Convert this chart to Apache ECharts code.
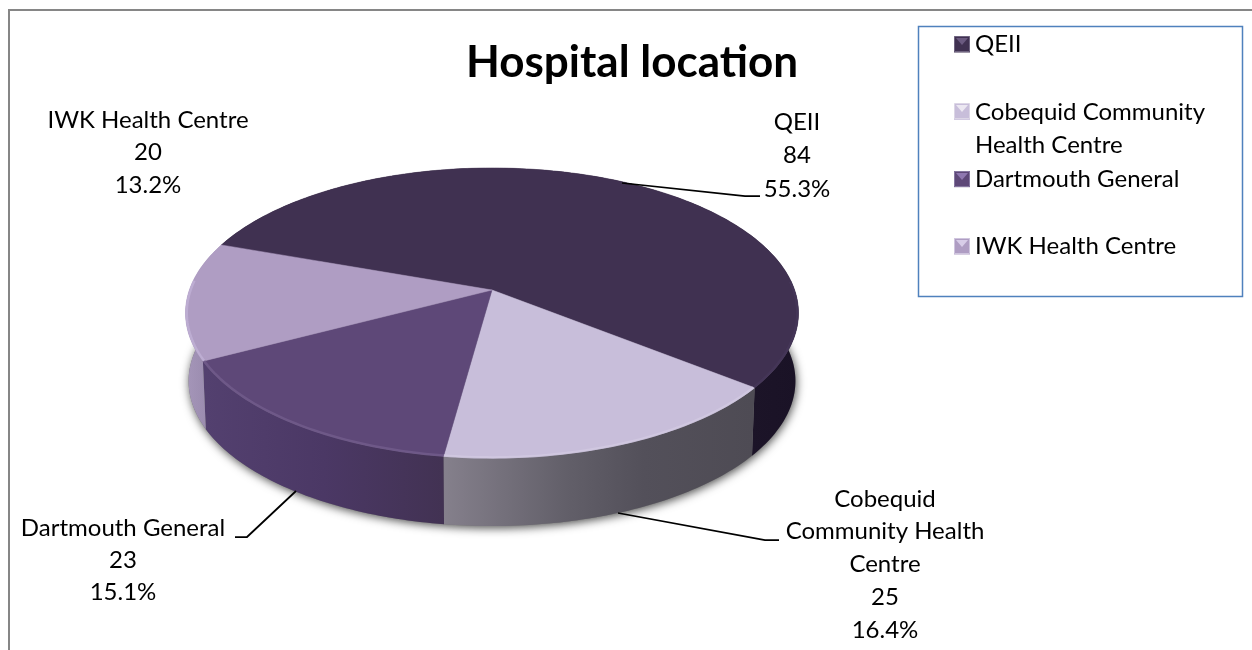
<!DOCTYPE html>
<html><head><meta charset="utf-8">
<style>html,body{margin:0;padding:0;background:#fff}#c{width:1252px;height:650px}</style>
<script src="https://cdn.jsdelivr.net/npm/echarts@6/dist/echarts.min.js"></script>
</head><body><div id="c"></div>
<script>
const categories = ['QEII','Cobequid Community Health Centre','Dartmouth General','IWK Health Centre'];
const values = [84,25,23,20];
const percentLabels = ['55.3%','16.4%','15.1%','13.2%'];
const titleText = 'Hospital location';
const legendLines = {'QEII':'QEII\n ','Cobequid Community Health Centre':'Cobequid Community\nHealth Centre','Dartmouth General':'Dartmouth General\n ','IWK Health Centre':'IWK Health Centre\n '};
const labelLines = [['QEII'],['Cobequid','Community Health','Centre'],['Dartmouth General'],['IWK Health Centre']];

// styling and layout (separate from the data)
const FONT='Lato';
const topColors=['#403151','#C8BEDA','#5E4878','#AF9DC3'];
const bevelColors=['#46375a','#d3cbe2','#75608f','#c3b4d8'];
const sideStops=[
  [[0,'#1c1428'],[1,'#1a1226']],
  [[0,'#85808c'],[0.4,'#625f69'],[0.65,'#53505a'],[1,'#4e4b54']],
  [[0,'#53406f'],[0.5,'#4b3865'],[1,'#423253']],
  [[0,'#a596b9'],[1,'#9a8bae']]
];
const sideRange=[[750,800],[443,752],[205,443],[186,208]];
const legendBody=['#403151','#C8BEDA','#5E4878','#AF9DC3'];
const legendEdge=['#6f6480','#dcd6e6','#8677a0','#cfc5de'];
const legendPeak=['#6b5a80','#ece8f2','#8f78b0','#d8cde8'];
const legendTops=[36,103,171,238];
const labelPos=[[797,122,33.5],[885,499,32.7],[123,528,32],[148,120,32.5]];
const leaders=[
  [[622,183],[745,196],[760,196]],
  [[618,513],[765,540],[779,540]],
  [[296,491],[247,537],[235,537]],
  null
];
const G={cx:492,cy:290,R:302.6,S:141.4,k:0.1586,depth:68,bottomScale:0.99};
const START=199.6;

const total=values.reduce((a,b)=>a+b,0);
function project(deg,bottom,inset){
  const t=deg*Math.PI/180,u=Math.cos(t),v=Math.sin(t),w=1-G.k*v;
  const f=inset||1;
  const x=G.R*u/w*f,y=G.S*v/w*f;
  return bottom?[G.cx+x*G.bottomScale,G.cy+y+G.depth]:[G.cx+x,G.cy+y];
}
function arc(a0,a1,bottom,inset){
  const n=Math.max(2,Math.ceil(Math.abs(a1-a0)));const p=[];
  for(let i=0;i<=n;i++)p.push(project(a0+(a1-a0)*i/n,bottom,inset));
  return p;
}
const chart=echarts.init(document.getElementById('c'),null,{renderer:'canvas'});

function sliceSeries(idx){
  const before=values.slice(0,idx).reduce((a,b)=>a+b,0);
  return {
    type:'custom',name:categories[idx],coordinateSystem:'none',silent:true,
    itemStyle:{color:topColors[idx]},
    data:[{name:categories[idx],value:values[idx]}],
    renderItem(params,api){
      const v=api.value(0);
      const a0=START+before/total*360,a1=a0+v/total*360;
      const top=arc(a0,a1,false),bot=arc(a0,a1,true);
      const rim=arc(a0,a1,false,0.996).filter(p=>p[1]>G.cy-10);
      const sr=sideRange[idx];
      const fill=new echarts.graphic.LinearGradient(sr[0],0,sr[1],0,sideStops[idx].map(s=>({offset:s[0],color:s[1]})),true);
      const kids=[
        {type:'polygon',z2:2,shape:{points:top.concat(bot.slice().reverse())},style:{fill,stroke:null}},
        {type:'polygon',z2:5,shape:{points:[[G.cx,G.cy]].concat(top)},style:{fill:topColors[idx],stroke:topColors[idx],lineWidth:0.5}},
        {type:'polyline',z2:6,shape:{points:rim},style:{fill:null,stroke:bevelColors[idx],lineWidth:2.5,opacity:0.7}}
      ];
      const lp=labelPos[idx];
      labelLines[idx].concat([String(v),percentLabels[idx]]).forEach((s,i)=>{
        kids.push({type:'text',z2:20,style:{text:s,x:lp[0],y:lp[1]+i*lp[2],align:'center',verticalAlign:'middle',fontFamily:FONT,fontSize:24,fill:'#000'}});
      });
      if(leaders[idx])kids.push({type:'polyline',z2:19,shape:{points:leaders[idx]},style:{fill:null,stroke:'#000',lineWidth:1.75}});
      return {type:'group',children:kids};
    }
  };
}
const shadowSeries={
  type:'custom',coordinateSystem:'none',silent:true,z:1,data:[total],
  renderItem(){
    return {type:'polygon',shape:{points:arc(0,360,true)},style:{fill:'#777',shadowBlur:10,shadowColor:'rgba(0,0,0,0.7)',shadowOffsetY:2,shadowOffsetX:1}};
  }
};
const option={
  animation:false,backgroundColor:'#fff',
  title:{text:titleText,left:466,top:41,padding:0,textStyle:{fontFamily:FONT,fontSize:44,fontWeight:'bold',color:'#000'}},
  legend:{
    orient:'vertical',left:954,top:28,padding:0,itemGap:1.33,itemWidth:16,itemHeight:49,selectedMode:false,
    formatter:n=>legendLines[n],
    textStyle:{fontFamily:FONT,fontSize:24,lineHeight:33,color:'#000'},
    data:categories.map((c,i)=>({name:c,icon:'path://M0 0H16V16H0Z M0 49L0 49',
      itemStyle:{color:legendBody[i],borderWidth:0}}))
  },
  graphic:[
    {type:'polyline',z:0,shape:{points:[[9,650],[9,10],[1252,10]]},style:{fill:null,stroke:'#868686',lineWidth:2}},
    {type:'rect',z:0,shape:{x:918.5,y:26.5,width:324,height:270},style:{fill:'#fff',stroke:'#4F81BD',lineWidth:1.5}}
  ].concat(legendTops.flatMap((y,i)=>[
    {type:'polygon',z:10,silent:true,shape:{points:[[956,y+2],[968,y+2],[962,y+9]]},style:{fill:legendPeak[i]}},
    {type:'rect',z:10,silent:true,shape:{x:954.5,y:y+0.5,width:15,height:15},style:{fill:null,stroke:legendEdge[i],lineWidth:1}}
  ])),
  series:[shadowSeries].concat(categories.map((c,i)=>Object.assign(sliceSeries(i),{z:2})))
};
chart.setOption(option);
</script></body></html>
